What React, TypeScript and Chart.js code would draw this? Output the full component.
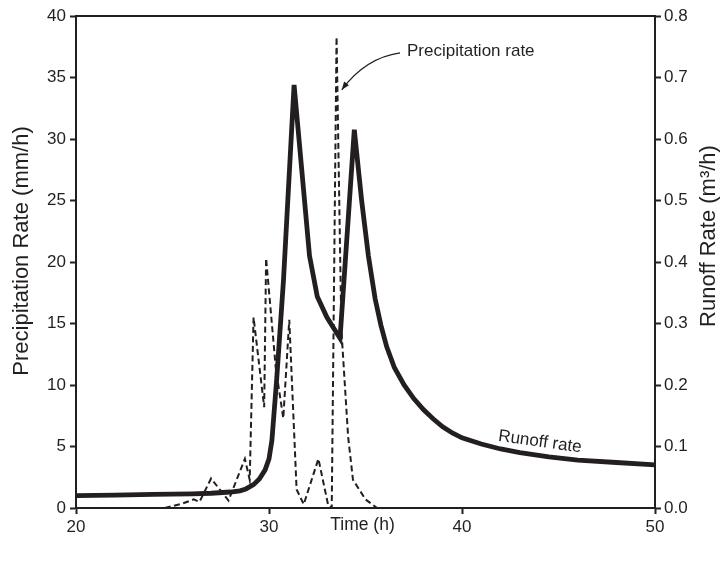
import React, { useEffect, useRef } from "react";
import { Chart, registerables } from "chart.js";

Chart.register(...registerables);

// Precipitation (dashed), left axis, mm/h
const precipTime = [24.6, 25.5, 26.1, 26.4, 27.0, 27.9, 28.75, 29.0, 29.2, 29.75, 29.85, 30.35, 30.74, 31.05, 31.43, 31.8, 32.56, 33.07, 33.25, 33.5, 33.75, 34.1, 34.35, 35.0, 35.6];
const precipRate = [0, 0.35, 0.7, 0.5, 2.4, 0.6, 4.0, 2.3, 15.5, 8.2, 20.3, 11.4, 7.3, 15.3, 1.5, 0.3, 4.0, 0.2, 0, 38.3, 14.5, 5.8, 2.3, 0.7, 0];

// Runoff (solid), right axis, m3/h
const runoffTime = [20, 22, 24, 26, 27, 28, 28.5, 28.8, 29.2, 29.5, 29.8, 30.0, 30.15, 30.4, 30.75, 31.3, 32.1, 32.5, 33.0, 33.68, 34.42, 34.8, 35.15, 35.5, 35.8, 36.1, 36.5, 37.0, 37.5, 38.0, 38.5, 39.0, 39.5, 40.0, 41.0, 42.0, 43.0, 44.5, 46.0, 48.0, 50.0];
const runoffRate = [0.020, 0.021, 0.022, 0.023, 0.024, 0.026, 0.028, 0.031, 0.038, 0.047, 0.062, 0.08, 0.11, 0.21, 0.37, 0.688, 0.41, 0.344, 0.31, 0.276, 0.615, 0.50, 0.41, 0.34, 0.297, 0.262, 0.228, 0.200, 0.178, 0.160, 0.145, 0.132, 0.122, 0.114, 0.104, 0.096, 0.090, 0.083, 0.078, 0.074, 0.070];

const xTitle = "Time (h)";
const yTitle = "Precipitation Rate (mm/h)";
const y1Title = "Runoff Rate (m³/h)";
const precipLabel = "Precipitation rate";
const runoffLabel = "Runoff rate";

const INK = "#231f20";
const FONT = "'Liberation Sans', Arial, Helvetica, sans-serif";

const decorPlugin = {
  id: "decor",
  afterDraw(chart: any) {
    const { ctx, chartArea, scales } = chart;
    const xs = scales.x;
    const ys = scales.y;
    ctx.save();
    // top frame line
    ctx.strokeStyle = INK;
    ctx.lineWidth = 2;
    ctx.beginPath();
    ctx.moveTo(chartArea.left - 1, chartArea.top);
    ctx.lineTo(chartArea.right + 1, chartArea.top);
    ctx.stroke();

    ctx.fillStyle = INK;
    // axis titles
    ctx.font = `22px ${FONT}`;
    ctx.textAlign = "center";
    ctx.textBaseline = "middle";
    ctx.save();
    ctx.translate(chartArea.left - 54, chartArea.top + 235);
    ctx.rotate(-Math.PI / 2);
    ctx.fillText(yTitle, 0, 0);
    ctx.restore();
    ctx.save();
    ctx.translate(chartArea.right + 54, chartArea.top + 220);
    ctx.rotate(-Math.PI / 2);
    ctx.fillText(y1Title, 0, 0);
    ctx.restore();
    ctx.font = `17.5px ${FONT}`;
    ctx.fillText(xTitle, (chartArea.left + chartArea.right) / 2 - 3, chartArea.bottom + 17);

    // precipitation annotation
    ctx.font = `17px ${FONT}`;
    ctx.textAlign = "left";
    ctx.fillText(precipLabel, xs.getPixelForValue(37.15), ys.getPixelForValue(37.15));
    const p0 = { x: xs.getPixelForValue(36.79), y: ys.getPixelForValue(37.0) };
    const c = { x: xs.getPixelForValue(35.0), y: ys.getPixelForValue(36.6) };
    const p2 = { x: xs.getPixelForValue(33.77), y: ys.getPixelForValue(34.0) };
    ctx.lineWidth = 1.2;
    ctx.beginPath();
    ctx.moveTo(p0.x, p0.y);
    ctx.quadraticCurveTo(c.x, c.y, p2.x, p2.y);
    ctx.stroke();
    const ang = Math.atan2(p2.y - c.y, p2.x - c.x);
    const L = 8, W = 3;
    ctx.beginPath();
    ctx.moveTo(p2.x, p2.y);
    ctx.lineTo(p2.x - L * Math.cos(ang) + W * Math.sin(ang), p2.y - L * Math.sin(ang) - W * Math.cos(ang));
    ctx.lineTo(p2.x - L * Math.cos(ang) - W * Math.sin(ang), p2.y - L * Math.sin(ang) + W * Math.cos(ang));
    ctx.closePath();
    ctx.fill();

    // runoff annotation
    ctx.save();
    ctx.translate(xs.getPixelForValue(44.04), ys.getPixelForValue(5.37));
    ctx.rotate((8 * Math.PI) / 180);
    ctx.textAlign = "center";
    ctx.fillText(runoffLabel, 0, 0);
    ctx.restore();
    ctx.restore();
  },
};

export default function App() {
  const ref = useRef<HTMLCanvasElement>(null);
  useEffect(() => {
    if (!ref.current) return;
    const tickFont = { family: FONT, size: 17 };
    const gridCfg = { drawOnChartArea: false, drawTicks: true, tickLength: 6, tickColor: INK, tickWidth: 2 };
    const chart = new Chart(ref.current, {
      type: "line",
      data: {
        datasets: [
          {
            label: precipLabel,
            data: precipTime.map((t, i) => ({ x: t, y: precipRate[i] })),
            yAxisID: "y",
            borderColor: INK,
            borderWidth: 2,
            borderDash: [6, 3.5],
            pointRadius: 0,
            tension: 0,
            fill: false,
          },
          {
            label: runoffLabel,
            data: runoffTime.map((t, i) => ({ x: t, y: runoffRate[i] })),
            yAxisID: "y1",
            borderColor: INK,
            borderWidth: 4.8,
            borderJoinStyle: "miter",
            pointRadius: 0,
            tension: 0,
            fill: false,
          },
        ],
      },
      options: {
        animation: false,
        responsive: false,
        layout: { padding: { top: 16, left: 0, right: 0, bottom: 0 } },
        plugins: { legend: { display: false }, tooltip: { enabled: false } },
        scales: {
          x: {
            type: "linear",
            min: 20,
            max: 50,
            afterFit: (s: any) => { s.height = 57; },
            ticks: { stepSize: 10, color: INK, font: tickFont, padding: 3 },
            grid: gridCfg,
            border: { display: true, color: INK, width: 2 },
          },
          y: {
            type: "linear",
            position: "left",
            min: 0,
            max: 40,
            afterFit: (s: any) => { s.width = 76; },
            ticks: { stepSize: 5, color: INK, font: tickFont, padding: 4 },
            grid: gridCfg,
            border: { display: true, color: INK, width: 2 },
          },
          y1: {
            type: "linear",
            position: "right",
            min: 0,
            max: 0.8,
            afterFit: (s: any) => { s.width = 70; },
            ticks: {
              stepSize: 0.1,
              color: INK,
              font: tickFont,
              padding: 3,
              callback: (v: any) => Number(v).toFixed(1),
            },
            grid: gridCfg,
            border: { display: true, color: INK, width: 2 },
          },
        },
      },
      plugins: [decorPlugin],
    });
    return () => chart.destroy();
  }, []);
  return (
    <div style={{ position: "fixed", left: 0, top: 0, width: 725, height: 565, background: "#fff" }}>
      <canvas ref={ref} width={725} height={565} style={{ width: 725, height: 565 }} />
    </div>
  );
}
